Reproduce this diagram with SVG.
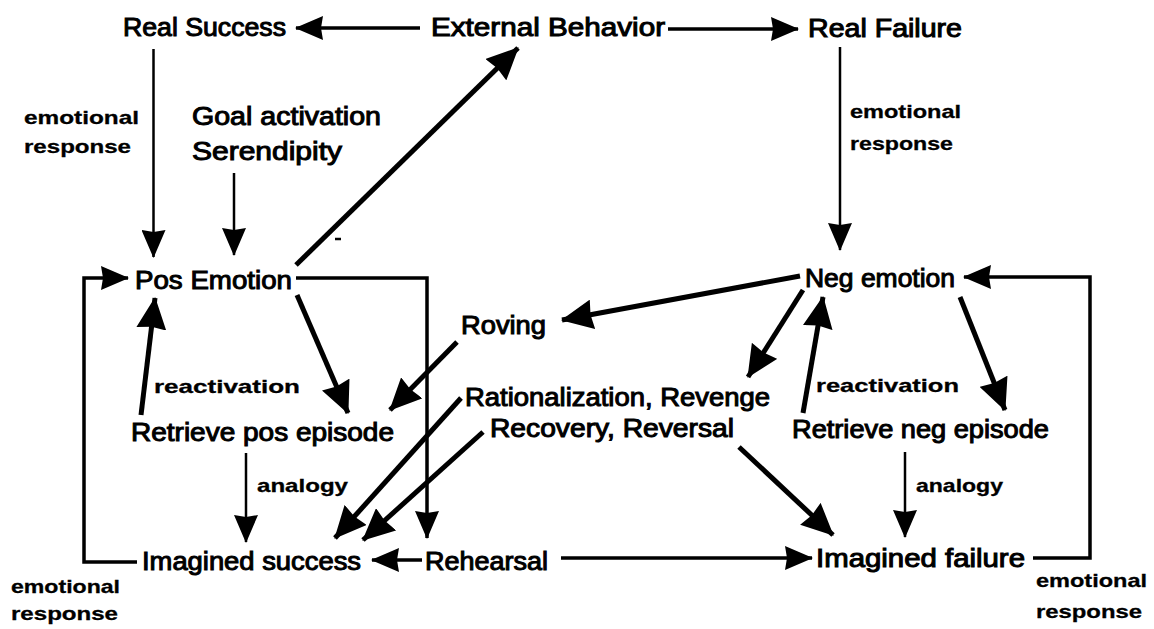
<svg xmlns="http://www.w3.org/2000/svg" width="1154" height="629" viewBox="0 0 1154 629">
  <style>
    .lbl { font-family: "Liberation Sans", Arial, Helvetica, sans-serif; font-size: 25px; fill: #000; stroke: #000; stroke-width: 1px; }
    .sm { font-family: "Liberation Sans", Arial, Helvetica, sans-serif; font-size: 19px; font-weight: bold; fill: #000; stroke: #000; stroke-width: 0.3px; }
    .edge { fill: none; stroke: #000; stroke-width: 3.5; stroke-linejoin: miter; }
    .thin { stroke-width: 2.5; }
    .thick { stroke-width: 5; }
  </style>
  <defs>
    <!-- solid triangular heads, slightly hollowed at the back -->
    <marker id="head" viewBox="0 0 28 24" refX="27" refY="12" markerWidth="28" markerHeight="24" markerUnits="userSpaceOnUse" orient="auto">
      <path d="M0,0 L28,12 L0,24 L2,12 z" fill="#000"/>
    </marker>
    <marker id="big" viewBox="0 0 32 30" refX="31" refY="15" markerWidth="32" markerHeight="30" markerUnits="userSpaceOnUse" orient="auto">
      <path d="M0,0 L32,15 L0,30 L2,15 z" fill="#000"/>
    </marker>
  </defs>

  <rect width="1154" height="629" fill="#fff"/>

  <!-- connectors -->
  <g id="connectors">
    <path class="edge" d="M420,28 L296,28" marker-end="url(#head)"/>
    <path class="edge" d="M668,29 L798,29" marker-end="url(#head)"/>
    <path class="edge thin" d="M153.5,49 L153.5,257" marker-end="url(#head)"/>
    <path class="edge thin" d="M234,173 L234,255" marker-end="url(#head)"/>
    <path class="edge thick" d="M296,265 L518,48" marker-end="url(#big)"/>
    <path class="edge thin" d="M840,47 L840,250" marker-end="url(#head)"/>
    <path class="edge" d="M296,278 L427,278 L427,538" marker-end="url(#head)"/>
    <path class="edge thick" d="M297,295 L348,413" marker-end="url(#big)"/>
    <path class="edge thick" d="M141,415 L155,298" marker-end="url(#big)"/>
    <path class="edge thick" d="M457,342 L390,410" marker-end="url(#big)"/>
    <path class="edge thick" d="M800,276 L562,320" marker-end="url(#big)"/>
    <path class="edge thick" d="M803,290 L748,377" marker-end="url(#big)"/>
    <path class="edge thick" d="M803,413 L823,297" marker-end="url(#big)"/>
    <path class="edge thick" d="M960,297 L1005,410" marker-end="url(#big)"/>
    <path class="edge thin" d="M246,453 L246,542" marker-end="url(#head)"/>
    <path class="edge thick" d="M461,398 L335,538" marker-end="url(#big)"/>
    <path class="edge thick" d="M483,432 L363,540" marker-end="url(#big)"/>
    <path class="edge" d="M422,560 L372,560" marker-end="url(#head)"/>
    <path class="edge" d="M561,558 L812,558" marker-end="url(#head)"/>
    <path class="edge thick" d="M739,447 L833,535" marker-end="url(#big)"/>
    <path class="edge thin" d="M905,452 L905,537" marker-end="url(#head)"/>
    <path class="edge" d="M137,562 L84,562 L84,278 L128,278" marker-end="url(#head)"/>
    <path class="edge" d="M1033,558 L1090,558 L1090,277 L964,277" marker-end="url(#head)"/>
    <path class="edge thin" d="M335,239 L341,239"/>
  </g>

  <!-- nodes -->
  <g id="real-success"><text class="lbl" x="123" y="36" textLength="163" lengthAdjust="spacingAndGlyphs">Real Success</text></g>
  <g id="external-behavior"><text class="lbl" x="431" y="36" textLength="234" lengthAdjust="spacingAndGlyphs">External  Behavior</text></g>
  <g id="real-failure"><text class="lbl" x="808" y="37" textLength="154" lengthAdjust="spacingAndGlyphs">Real  Failure</text></g>
  <g id="goal-activation">
    <text class="lbl" x="192" y="125" textLength="189" lengthAdjust="spacingAndGlyphs">Goal activation</text>
    <text class="lbl" x="192" y="160" textLength="150" lengthAdjust="spacingAndGlyphs">Serendipity</text>
  </g>
  <g id="pos-emotion"><text class="lbl" x="135" y="289" textLength="157" lengthAdjust="spacingAndGlyphs">Pos Emotion</text></g>
  <g id="neg-emotion"><text class="lbl" x="805" y="287" textLength="150" lengthAdjust="spacingAndGlyphs">Neg emotion</text></g>
  <g id="roving"><text class="lbl" x="461" y="334" textLength="85" lengthAdjust="spacingAndGlyphs">Roving</text></g>
  <g id="rationalization">
    <text class="lbl" x="465" y="406" textLength="305" lengthAdjust="spacingAndGlyphs">Rationalization, Revenge</text>
    <text class="lbl" x="490" y="437" textLength="244" lengthAdjust="spacingAndGlyphs">Recovery, Reversal</text>
  </g>
  <g id="retrieve-pos"><text class="lbl" x="131" y="441" textLength="263" lengthAdjust="spacingAndGlyphs">Retrieve pos episode</text></g>
  <g id="retrieve-neg"><text class="lbl" x="792" y="438" textLength="257" lengthAdjust="spacingAndGlyphs">Retrieve neg episode</text></g>
  <g id="imagined-success"><text class="lbl" x="142" y="570" textLength="219" lengthAdjust="spacingAndGlyphs">Imagined success</text></g>
  <g id="rehearsal"><text class="lbl" x="425" y="570" textLength="123" lengthAdjust="spacingAndGlyphs">Rehearsal</text></g>
  <g id="imagined-failure"><text class="lbl" x="816" y="567" textLength="209" lengthAdjust="spacingAndGlyphs">Imagined  failure</text></g>

  <!-- edge labels -->
  <g id="edge-labels">
    <text class="sm" x="24" y="124" textLength="115" lengthAdjust="spacingAndGlyphs">emotional</text>
    <text class="sm" x="24" y="153" textLength="107" lengthAdjust="spacingAndGlyphs">response</text>
    <text class="sm" x="850" y="118" textLength="111" lengthAdjust="spacingAndGlyphs">emotional</text>
    <text class="sm" x="850" y="150" textLength="103" lengthAdjust="spacingAndGlyphs">response</text>
    <text class="sm" x="154" y="393" textLength="146" lengthAdjust="spacingAndGlyphs">reactivation</text>
    <text class="sm" x="816" y="392" textLength="143" lengthAdjust="spacingAndGlyphs">reactivation</text>
    <text class="sm" x="257" y="492" textLength="91" lengthAdjust="spacingAndGlyphs">analogy</text>
    <text class="sm" x="916" y="492" textLength="87" lengthAdjust="spacingAndGlyphs">analogy</text>
    <text class="sm" x="11" y="593" textLength="109" lengthAdjust="spacingAndGlyphs">emotional</text>
    <text class="sm" x="11" y="620" textLength="107" lengthAdjust="spacingAndGlyphs">response</text>
    <text class="sm" x="1036" y="587" textLength="111" lengthAdjust="spacingAndGlyphs">emotional</text>
    <text class="sm" x="1036" y="618" textLength="106" lengthAdjust="spacingAndGlyphs">response</text>
  </g>
</svg>
